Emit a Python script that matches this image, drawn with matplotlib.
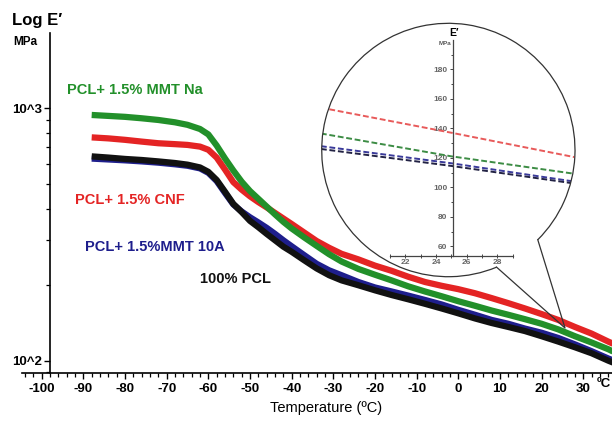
import numpy as np
import matplotlib
matplotlib.use("Agg")
import matplotlib.pyplot as plt
from matplotlib.patches import Ellipse, Arc
from matplotlib.ticker import FixedLocator, LogLocator, NullFormatter

plt.rcParams['font.family'] = ['Liberation Sans', 'DejaVu Sans']
plt.rcParams['axes.unicode_minus'] = False

# Storage modulus E' (MPa)
temp = [-88, -84, -80, -76, -72, -68, -65, -62, -60, -58, -56, -54, -52, -50,
        -48, -46, -44, -42, -40, -37, -34, -31, -28, -24, -20, -16, -12, -8,
        -4, 0, 4, 8, 12, 16, 20, 24, 28, 32, 36, 38]
e_mmt_na = [941, 933, 925, 913, 899, 880, 860, 828, 788, 712, 633, 567, 512, 470,
            438, 408, 380, 355, 334, 308, 285, 264, 247, 231, 219, 208, 197, 188,
            180, 172, 165, 158, 152, 146, 140, 133, 125, 118, 111, 107]
e_cnf = [767, 760, 750, 738, 727, 721, 716, 705, 685, 638, 572, 510, 476, 448,
         425, 405, 385, 366, 348, 322, 298, 280, 265, 252, 238, 227, 215, 205,
         198, 192, 185, 177, 169, 161, 153, 145, 136, 128, 119, 115]
e_mmt_10a = [632, 627, 622, 616, 609, 600, 592, 578, 555, 515, 462, 416, 390, 370,
             353, 336, 318, 300, 284, 262, 242, 228, 218, 205, 195, 188, 181, 174,
             167, 159, 152, 145, 140, 134, 129, 123, 116, 109, 102, 99]
e_pcl = [645, 638, 630, 624, 616, 607, 598, 583, 560, 520, 467, 418, 388, 358,
         338, 318, 300, 283, 270, 250, 232, 218, 208, 199, 190, 182, 175, 168,
         161, 154, 147, 141, 136, 131, 125, 119, 113, 107, 100, 97]

# zoomed view (linear E') around 25 C
zoom_temp = [16.5, 25, 33.0]
zoom_cnf = [154, 137, 120.5]
zoom_mmt_na = [136.5, 121, 109.2]
zoom_mmt_10a = [127.9, 116.3, 103.9]
zoom_pcl = [126.0, 114.5, 102.6]

x_ticks = list(range(-100, 40, 10))
x_labels = [str(t) for t in x_ticks]

GREEN = '#22902a'
RED = '#e42424'
BLUE = '#1e1e8c'
BLACK = '#111111'

fig = plt.figure(figsize=(6.12, 4.21), dpi=100)
ax = fig.add_axes([21.7 / 612, 47.7 / 421, 590.3 / 612, 340.3 / 421])
ax.set_yscale('log')
ax.set_xlim(-104.8, 36.9)
ax.set_ylim(89.1, 1988)

ax.plot(temp, e_mmt_10a, color=BLUE, lw=4.5, solid_capstyle='butt')
ax.plot(temp, e_pcl, color=BLACK, lw=4.5, solid_capstyle='butt')
ax.plot(temp, e_cnf, color=RED, lw=4.5, solid_capstyle='butt')
ax.plot(temp, e_mmt_na, color=GREEN, lw=4.5, solid_capstyle='butt')

for s in ['top', 'right']:
    ax.spines[s].set_visible(False)
ax.spines['left'].set_position(('data', -98))
ax.spines['left'].set_linewidth(1.2)
ax.spines['bottom'].set_linewidth(1.2)

ax.set_xticks(x_ticks)
ax.set_xticklabels(x_labels, fontsize=9.5, fontweight='bold')
ax.xaxis.set_minor_locator(FixedLocator(range(-104, 38, 2)))
ax.tick_params(axis='x', which='major', direction='out', length=4, width=1, pad=3)
ax.tick_params(axis='x', which='minor', direction='out', length=3, width=0.9)

ax.yaxis.set_major_locator(FixedLocator([100, 1000]))
ax.set_yticklabels(['10^2', '10^3'], fontsize=9.5, fontweight='bold')
ax.yaxis.set_minor_locator(LogLocator(base=10, subs=np.arange(2, 10)))
ax.yaxis.set_minor_formatter(NullFormatter())
ax.tick_params(axis='y', which='major', direction='out', length=4, width=1, pad=2)
ax.tick_params(axis='y', which='minor', direction='out', length=3, width=0.9)

# unit at the end of the x axis
fig.text(611 / 612, 1 - 378 / 421, '\u00baC', ha='right', va='top',
         fontsize=9.5, fontweight='bold')

# series labels
ax.text(-94, 1182, 'PCL+ 1.5% MMT Na', color=GREEN, fontsize=10.5,
        fontweight='bold', va='center')
ax.text(-92, 433, 'PCL+ 1.5% CNF', color=RED, fontsize=10.5,
        fontweight='bold', va='center')
ax.text(-89.6, 283, 'PCL+ 1.5%MMT 10A', color=BLUE, fontsize=10.5,
        fontweight='bold', va='center')
ax.text(-62, 211, '100% PCL', color=BLACK, fontsize=10.5,
        fontweight='bold', va='center')

fig.text(12 / 612, 1 - 20 / 421, 'Log E\u2032', fontsize=12, fontweight='bold',
         ha='left', va='center')
fig.text(13 / 612, 1 - 42 / 421, 'MPa', fontsize=8.5, fontweight='bold',
         ha='left', va='center')
fig.text(326 / 612, 13 / 421, 'Temperature (\u00baC)', fontsize=10.5,
         ha='center', va='center')

# magnifier bubble with zoomed linear plot
ax_in = fig.add_axes([321.7 / 612, 144.3 / 421, 253.3 / 612, 253.4 / 421])
ax_in.patch.set_visible(False)
ax_in.set_xlim(16.55, 33.05)
ax_in.set_ylim(39.4, 211.2)

circle = Ellipse((0.5, 0.5), 1, 1, transform=ax_in.transAxes,
                 facecolor='white', edgecolor='none', zorder=0)
ax_in.add_patch(circle)
ax_in.add_patch(Arc((0.5, 0.5), 1, 1, theta1=-45.1, theta2=292.4,
                    transform=ax_in.transAxes, color='#333333', lw=0.9,
                    clip_on=False, zorder=6))
ax_in.plot([0.853, 0.9605, 0.690], [0.146, -0.2025, 0.038],
           transform=ax_in.transAxes, color='#333333', lw=0.9,
           clip_on=False, zorder=6)

dash = (0, (3, 1.4))
for vals, col in [(zoom_cnf, '#e85a5a'), (zoom_mmt_na, '#3c8c44'),
                  (zoom_mmt_10a, '#3a3a9a'), (zoom_pcl, '#222244')]:
    ln, = ax_in.plot(zoom_temp, vals, color=col, lw=1.4, ls=dash, zorder=3)
    ln.set_clip_path(circle)

for s in ['top', 'right']:
    ax_in.spines[s].set_visible(False)
ax_in.spines['left'].set_position(('data', 25.1))
ax_in.spines['left'].set_bounds(53.7, 199.7)
ax_in.spines['bottom'].set_position(('data', 53.7))
ax_in.spines['bottom'].set_bounds(21, 29)
for s in ['left', 'bottom']:
    ax_in.spines[s].set_color('#444444')
    ax_in.spines[s].set_linewidth(0.9)
    ax_in.spines[s].set_zorder(4)

ax_in.set_yticks(range(60, 200, 20))
ax_in.yaxis.set_minor_locator(FixedLocator(range(70, 200, 20)))
ax_in.set_xticks([22, 24, 26, 28])
ax_in.xaxis.set_minor_locator(FixedLocator([21, 23, 25, 27, 29]))
ax_in.tick_params(axis='both', which='both', colors='#444444', labelcolor='#666666',
                  labelsize=6, width=0.7)
ax_in.tick_params(axis='y', which='major', direction='out', length=2.5, pad=1.5)
ax_in.tick_params(axis='y', which='minor', direction='out', length=1.8)
ax_in.tick_params(axis='x', which='both', direction='inout', length=3, pad=1)
for lbl in ax_in.get_yticklabels() + ax_in.get_xticklabels():
    lbl.set_fontweight('bold')
for lbl in ax_in.get_xticklabels():
    lbl.set_clip_path(circle)

ax_in.text(25.2, 204.6, 'E\u2032', fontsize=7.5, fontweight='bold',
           ha='center', va='center')
ax_in.text(25.0, 197.8, 'MPa', fontsize=4.5, fontweight='bold', color='#555555',
           ha='right', va='center')

fig.savefig('out.png', dpi=100)
